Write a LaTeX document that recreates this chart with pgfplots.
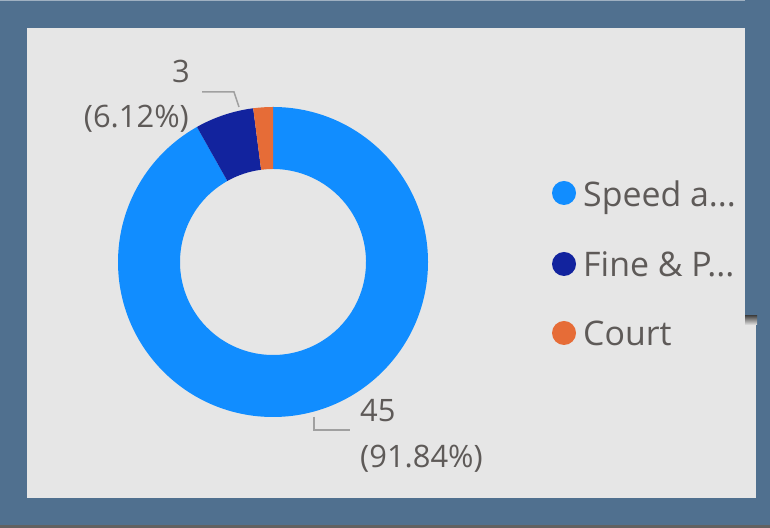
\documentclass[border=0pt]{standalone}
\usepackage{pgfplots}
\pgfplotsset{compat=1.18}
\usepackage{pgfplotstable}
\usepackage{fontspec}
\setmainfont{Open Sans}
\definecolor{framec}{HTML}{50708F}
\definecolor{bgc}{HTML}{E6E6E6}
\definecolor{speedc}{HTML}{118DFF}
\definecolor{finec}{HTML}{12239E}
\definecolor{courtc}{HTML}{E66C37}
\definecolor{txtc}{HTML}{5E5A58}
\definecolor{leadc}{HTML}{A0A0A0}
\pgfplotstableread{
value col
45 speedc
3 finec
1 courtc
}\donut
\begin{document}
\begin{tikzpicture}[x=1bp,y=1bp]
\fill[framec] (0,0) rectangle (770,528);
\fill[black!62] (0,0) rectangle (770,3);
\fill[framec!55!white] (0,527) rectangle (745,528);
\fill[bgc] (27,30) rectangle (756,212);
\fill[bgc] (27,212) rectangle (745,500);
\begin{axis}[at={(0,0)},anchor=south west,x=1bp,y=1bp,
  xmin=0,xmax=770,ymin=0,ymax=528,hide axis,clip=false]
\xdef\total{0}
\foreach \i in {0,1,2}{%
  \pgfplotstablegetelem{\i}{value}\of\donut
  \pgfmathsetmacro{\nt}{\total+\pgfplotsretval}\xdef\total{\nt}}
\xdef\cum{0}
\foreach \i in {0,1,2}{%
  \pgfplotstablegetelem{\i}{value}\of\donut \let\v\pgfplotsretval
  \pgfplotstablegetelem{\i}{col}\of\donut \let\scol\pgfplotsretval
  \pgfmathsetmacro{\a}{90-\cum/\total*360}
  \pgfmathsetmacro{\b}{90-(\cum+\v)/\total*360}
  \pgfmathsetmacro{\xo}{273+155*cos(\a)}
  \pgfmathsetmacro{\yo}{266+155*sin(\a)}
  \pgfmathsetmacro{\xi}{273+93*cos(\b)}
  \pgfmathsetmacro{\yi}{266+93*sin(\b)}
  \edef\slice{\noexpand\fill[\scol] (axis cs:\xo,\yo) arc[start angle=\a,end angle=\b,radius=155bp] -- (axis cs:\xi,\yi) arc[start angle=\b,end angle=\a,radius=93bp] -- cycle;}
  \slice
  \pgfmathsetmacro{\nc}{\cum+\v}\xdef\cum{\nc}
}
% leader lines
\draw[leadc,line width=1.5bp] (axis cs:239,421) -- (axis cs:234,436) -- (axis cs:202,436);
\draw[leadc,line width=1.5bp] (axis cs:314,111) -- (axis cs:314,98) -- (axis cs:350,98);
% data labels
\node[anchor=base east,inner sep=0,text=txtc,font=\fontsize{31}{37}\selectfont] at (axis cs:190,445) {3};
\node[anchor=base east,inner sep=0,text=txtc,font=\fontsize{31}{37}\selectfont] at (axis cs:189,400) {(6.12\%)};
\node[anchor=base west,inner sep=0,text=txtc,font=\fontsize{31}{37}\selectfont] at (axis cs:360,106) {45};
\node[anchor=base west,inner sep=0,text=txtc,font=\fontsize{31}{37}\selectfont] at (axis cs:360,60) {(91.84\%)};
% legend
\fill[speedc] (axis cs:564,335) circle[radius=12bp];
\fill[finec] (axis cs:564,264) circle[radius=12bp];
\fill[courtc] (axis cs:564,195) circle[radius=12bp];
\node[anchor=base west,inner sep=0,text=txtc,font=\fontsize{34}{41}\selectfont] at (axis cs:583,321) {Speed a...};
\node[anchor=base west,inner sep=0,text=txtc,font=\fontsize{34}{41}\selectfont] at (axis cs:583,251) {Fine \& P...};
\node[anchor=base west,inner sep=0,text=txtc,font=\fontsize{34}{41}\selectfont] at (axis cs:583,182) {Court};
\end{axis}
\fill[framec] (745,212) rectangle (770,528);
\shade[top color=black!70,bottom color=bgc] (745,203) rectangle (757,212);
\end{tikzpicture}
\end{document}
